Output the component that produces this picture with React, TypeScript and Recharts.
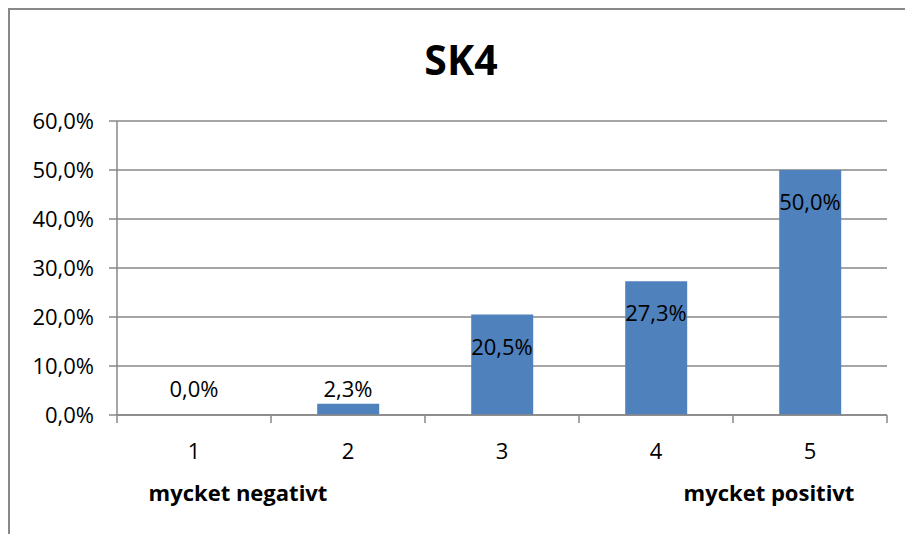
import React from 'react';
import * as R from 'recharts';
import { ComposedChart, Bar, Line, XAxis, YAxis, CartesianGrid } from 'recharts';

const categories = ['1', '2', '3', '4', '5'];
const values = [0.0, 2.3, 20.5, 27.3, 50.0];
const yTicks = [0, 10, 20, 30, 40, 50, 60];
const title = 'SK4';
const lowLabel = 'mycket negativt';
const highLabel = 'mycket positivt';

const data = categories.map((c, i) => ({ cat: c, value: values[i] }));

const FONT = '"Open Sans", "Liberation Sans", sans-serif';
const GRID = '#878787';
const BAR = '#4F81BD';
const FS = 22;

const fmt = (v: number) => v.toFixed(1).replace('.', ',') + '%';

const usePlotAreaSafe: () => any = (R as any).usePlotArea || (() => null);

const XTick = (props: any) => {
  const { x, y, payload, index } = props;
  const half = payload && payload.offset ? payload.offset : 77;
  const last = index === categories.length - 1;
  return (
    <g>
      <line x1={x - half} x2={x - half} y1={y - 8} y2={y} stroke={GRID} strokeWidth={1.5} />
      {last && <line x1={x + half} x2={x + half} y1={y - 8} y2={y} stroke={GRID} strokeWidth={1.5} />}
      <text x={x} y={y + 20} dy="0.71em" textAnchor="middle" fill="#000" fontFamily={FONT} fontSize={FS}>
        {payload.value}
      </text>
    </g>
  );
};

const PointLabel = (props: any) => {
  const { x, y, value } = props;
  const area = usePlotAreaSafe();
  const base = area ? area.y + area.height : y;
  const h = base - y;
  const cy = h < 40 ? base - 27 : y + 31;
  return (
    <text x={x} y={cy} dominantBaseline="central" textAnchor="middle" fill="#000" fontFamily={FONT} fontSize={FS}>
      {fmt(value)}
    </text>
  );
};

export default function App() {
  const textBase: React.CSSProperties = {
    position: 'absolute',
    textAlign: 'center',
    fontFamily: FONT,
    fontWeight: 700,
    color: '#000',
  };
  return (
    <div style={{ position: 'absolute', left: 0, top: 0, width: 905, height: 534, overflow: 'hidden', background: '#fff' }}>
      <div
        style={{
          position: 'absolute',
          left: 8,
          top: 8,
          width: 1000,
          height: 700,
          border: '2px solid #888',
          boxSizing: 'border-box',
        }}
      />
      <div style={{ ...textBase, left: 0, top: 35, width: 922, fontSize: 41, lineHeight: '48px' }}>{title}</div>
      <div style={{ position: 'absolute', left: 0, top: 0 }}>
        <ComposedChart
          width={905}
          height={534}
          data={data}
          margin={{ top: 121, right: 18, bottom: 39, left: 0 }}
          barCategoryGap="30%"
        >
          <CartesianGrid vertical={false} stroke={GRID} strokeWidth={1.5} />
          <XAxis
            dataKey="cat"
            height={80}
            axisLine={{ stroke: GRID, strokeWidth: 1.5 }}
            tickLine={false}
            tick={<XTick />}
            interval={0}
          />
          <YAxis
            width={117}
            domain={[0, 60]}
            ticks={yTicks}
            tickFormatter={fmt}
            axisLine={{ stroke: GRID, strokeWidth: 1.5 }}
            tickLine={{ stroke: GRID, strokeWidth: 1.5 }}
            tickSize={8}
            tickMargin={15}
            tick={{ fill: '#000', fontFamily: FONT, fontSize: FS }}
            interval={0}
          />
          <Bar dataKey="value" fill={BAR} isAnimationActive={false} />
          <Line
            dataKey="value"
            stroke="none"
            dot={false}
            activeDot={false}
            legendType="none"
            isAnimationActive={false}
            label={<PointLabel />}
          />
        </ComposedChart>
      </div>
      <div style={{ ...textBase, left: 238 - 150, top: 477, width: 300, fontSize: FS, lineHeight: '30px' }}>{lowLabel}</div>
      <div style={{ ...textBase, left: 769 - 150, top: 477, width: 300, fontSize: FS, lineHeight: '30px' }}>{highLabel}</div>
    </div>
  );
}
